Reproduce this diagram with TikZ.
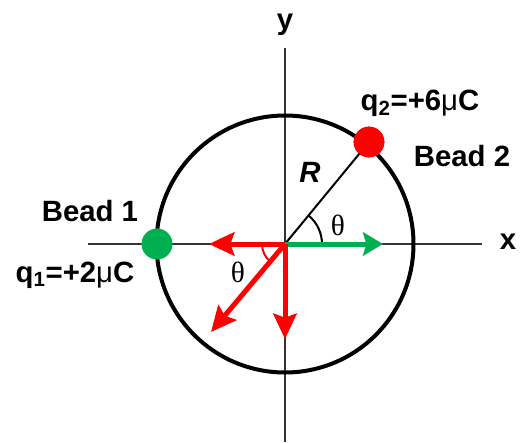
\documentclass[tikz,border=0pt]{standalone}
\usepackage{fontspec}
\setmainfont{Liberation Sans}
\newfontfamily\serifth{Liberation Serif}
\usetikzlibrary{arrows.meta}
\definecolor{beadgreen}{RGB}{0,176,80}
\definecolor{axisgray}{RGB}{51,51,51}
\begin{document}
\begin{tikzpicture}[x=0.75pt,y=-0.75pt,
  axisline/.style={draw=axisgray,line width=1.5pt},
  ring/.style={draw=black,line width=3pt},
  bead/.style={circle,inner sep=0pt,minimum size=23pt},
  redarrow/.style={draw=red,line width=3.75pt,-{Stealth[length=19pt,width=17.5pt,inset=3pt]}},
  greenarrow/.style={draw=beadgreen,line width=3.75pt,-{Stealth[length=15pt,width=17.5pt,inset=2.5pt]}},
  lbl/.style={font=\fontsize{22}{26}\selectfont\bfseries,inner sep=0pt},
  thlbl/.style={font=\fontsize{22}{26}\selectfont\serifth,inner sep=0pt}]
\useasboundingbox (0,0) rectangle (522,443);
\coordinate (O) at (285,244);
\coordinate (xl) at (88,244);
\coordinate (xr) at (482,244);
\coordinate (yt) at (285,48);
\coordinate (yb) at (285,442);
% axes
\draw[axisline] (xl) -- (xr);
\draw[axisline] (yt) -- (yb);
% ring
\draw[ring] (O) circle[radius=128.5];
% beads
\node[bead,fill=beadgreen] (b1) at (157,244) {};
\node[bead,fill=red] (b2) at (369,142) {};
% radius line
\draw[black,line width=1.5pt] (O) -- (b2.center);
% angle arcs
\draw[black,line width=1.5pt] ([xshift=37*0.75pt]O) arc[start angle=0,end angle=-50,radius=37];
\draw[red,line width=1.5pt] ([xshift=-23*0.75pt]O) arc[start angle=180,end angle=130,radius=23];
% force arrows
\coordinate (gtip) at (383,244);
\coordinate (ltip) at (209,244);
\coordinate (dtip) at (285,339);
\coordinate (atip) at (211,332);
\draw[greenarrow] (O) -- (gtip);
\draw[redarrow] (O) -- (ltip);
\draw[redarrow] (O) -- (dtip);
\draw[redarrow] (O) -- (atip);
% redraw beads on top
\node[bead,fill=beadgreen] at (b1) {};
\node[bead,fill=red] at (b2) {};
% labels
\node[lbl] (ylab) at (285,25) {y};
\node[lbl] (xlab) at (508,242) {x};
\node[lbl] (bead1) at (90,211) {Bead 1};
\node[lbl] (q1) at (75,275) {q\textsubscript{1}=+2{\mdseries μ}C};
\node[lbl] (bead2) at (462,156) {Bead 2};
\node[lbl] (q2) at (420,103) {q\textsubscript{2}=+6{\mdseries μ}C};
\node[lbl,font=\fontsize{22}{26}\selectfont\bfseries\itshape] (Rlab) at (310,172) {R};
\node[thlbl] (th1) at (338,225) {θ};
\node[thlbl] (th2) at (238,272) {θ};
\end{tikzpicture}
\end{document}
